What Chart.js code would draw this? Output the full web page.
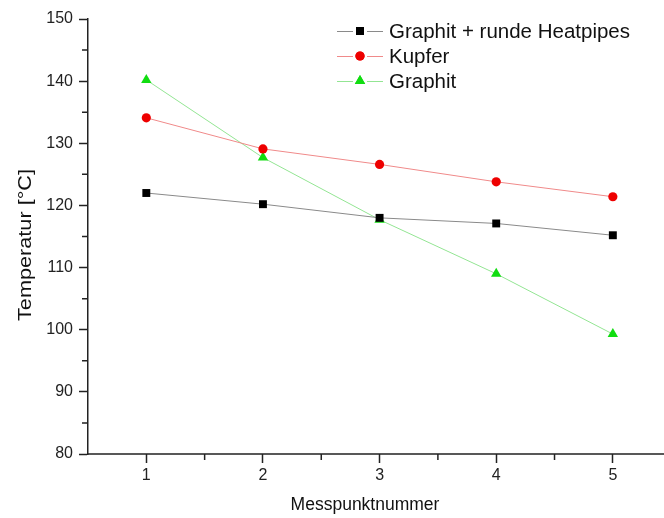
<!DOCTYPE html>
<html>
<head>
<meta charset="utf-8">
<script src="https://cdn.jsdelivr.net/npm/chart.js@4"></script>
<style>
  body { margin: 0; background: #fff; overflow: hidden; }
  canvas { display: block; }
</style>
</head>
<body>
<canvas id="grafik" width="664" height="518"></canvas>
<script>
// Messwerte
const messpunkte = [1, 2, 3, 4, 5];
const graphitHeatpipes = [122, 120.2, 118, 117.1, 115.2];
const kupfer = [134.1, 129.1, 126.6, 123.8, 121.4];
const graphit = [140.2, 127.7, 117.7, 109, 99.3];
const serienNamen = ['Graphit + runde Heatpipes', 'Kupfer', 'Graphit'];
const yTicks = [80, 90, 100, 110, 120, 130, 140, 150];
const yTitel = 'Temperatur [°C]';

const schrift = "'Liberation Sans', Arial, sans-serif";

function punkte(werte) {
    return messpunkte.map((m, i) => ({ x: m, y: werte[i] }));
}

const serien = [
    { label: serienNamen[0], data: punkte(graphitHeatpipes), linie: '#8a8a8a', farbe: '#000000', stil: 'rect', r: 5.6 },
    { label: serienNamen[1], data: punkte(kupfer), linie: '#f08a8a', farbe: '#ee0000', stil: 'circle', r: 4.6 },
    { label: serienNamen[2], data: punkte(graphit), linie: '#93e593', farbe: '#11dd11', stil: 'triangle', r: 6 }
];

// Nebenstriche, x-Achse bis zum Rand, y-Titel und Legende im Origin-Stil
const extras = {
    id: 'extras',
    afterDraw(chart) {
        const c = chart.ctx;
        const xs = chart.scales.x, ys = chart.scales.y;
        const area = chart.chartArea;
        c.save();
        c.strokeStyle = '#222';
        c.lineWidth = 1.5;
        c.beginPath();
        c.moveTo(area.left - 1, area.bottom);
        c.lineTo(chart.width, area.bottom);
        for (let v = 1.5; v < 5.2; v += 1) {
            const px = xs.getPixelForValue(v);
            c.moveTo(px, area.bottom);
            c.lineTo(px, area.bottom + 6);
        }
        for (let v = 85; v < 150; v += 10) {
            const py = ys.getPixelForValue(v);
            c.moveTo(area.left, py);
            c.lineTo(area.left - 6, py);
        }
        c.stroke();

        // y-Achsentitel
        c.save();
        c.translate(26, 245);
        c.rotate(-Math.PI / 2);
        c.font = '18px ' + schrift;
        const w = c.measureText(yTitel).width;
        c.scale(152 / w, 1);
        c.fillStyle = '#111';
        c.textAlign = 'center';
        c.textBaseline = 'middle';
        c.fillText(yTitel, 0, 0);
        c.restore();

        // Legende
        const lx = 337, tx = 389;
        const zeilen = [31, 56, 81];
        c.font = '20.5px ' + schrift;
        c.textBaseline = 'middle';
        serien.forEach((s, i) => {
            const y = zeilen[i];
            c.strokeStyle = s.linie;
            c.lineWidth = 1;
            c.beginPath();
            c.moveTo(lx, y + 0.5); c.lineTo(lx + 16, y + 0.5);
            c.moveTo(lx + 30, y + 0.5); c.lineTo(lx + 46, y + 0.5);
            c.stroke();
            c.fillStyle = s.farbe;
            Chart.helpers.drawPoint(c, { pointStyle: s.stil, radius: s.r, borderWidth: 0 }, lx + 23, y);
            c.fill();
            c.fillStyle = '#111';
            c.fillText(s.label, tx, y + 1);
        });
        c.restore();
    }
};

new Chart(document.getElementById('grafik'), {
    type: 'line',
    data: {
        datasets: serien.map(s => ({
            label: s.label,
            data: s.data,
            borderColor: s.linie,
            borderWidth: 1,
            backgroundColor: s.farbe,
            pointBackgroundColor: s.farbe,
            pointBorderWidth: 0,
            pointStyle: s.stil,
            pointRadius: s.r,
            pointHoverRadius: s.r,
            tension: 0
        }))
    },
    options: {
        responsive: false,
        animation: false,
        layout: { padding: { top: 19, right: 22, left: 0, bottom: 0 } },
        plugins: {
            legend: { display: false },
            tooltip: { enabled: false }
        },
        scales: {
            x: {
                type: 'linear',
                min: 0.5,
                max: 5.25,
                afterFit: s => { s.height = 64; },
                grid: { drawOnChartArea: false, drawTicks: true, tickLength: 9, tickColor: '#222', tickWidth: 1.5 },
                border: { display: false },
                ticks: {
                    stepSize: 1,
                    includeBounds: false,
                    color: '#222',
                    padding: 3,
                    font: { family: schrift, size: 16 }
                },
                afterBuildTicks: s => { s.ticks = messpunkte.map(v => ({ value: v })); },
                title: {
                    display: true,
                    text: 'Messpunktnummer',
                    color: '#111',
                    font: { family: schrift, size: 17.5 },
                    padding: { top: 0, bottom: 2 }
                }
            },
            y: {
                min: 80,
                max: 150,
                afterFit: s => { s.width = 88; },
                afterBuildTicks: s => { s.ticks = yTicks.map(v => ({ value: v })); },
                grid: { drawOnChartArea: false, drawTicks: true, tickLength: 9, tickColor: '#222', tickWidth: 1.5 },
                border: { display: true, color: '#222', width: 1.5 },
                ticks: {
                    color: '#222',
                    padding: 6,
                    font: { family: schrift, size: 16 }
                }
            }
        }
    },
    plugins: [extras]
});
</script>
</body>
</html>
